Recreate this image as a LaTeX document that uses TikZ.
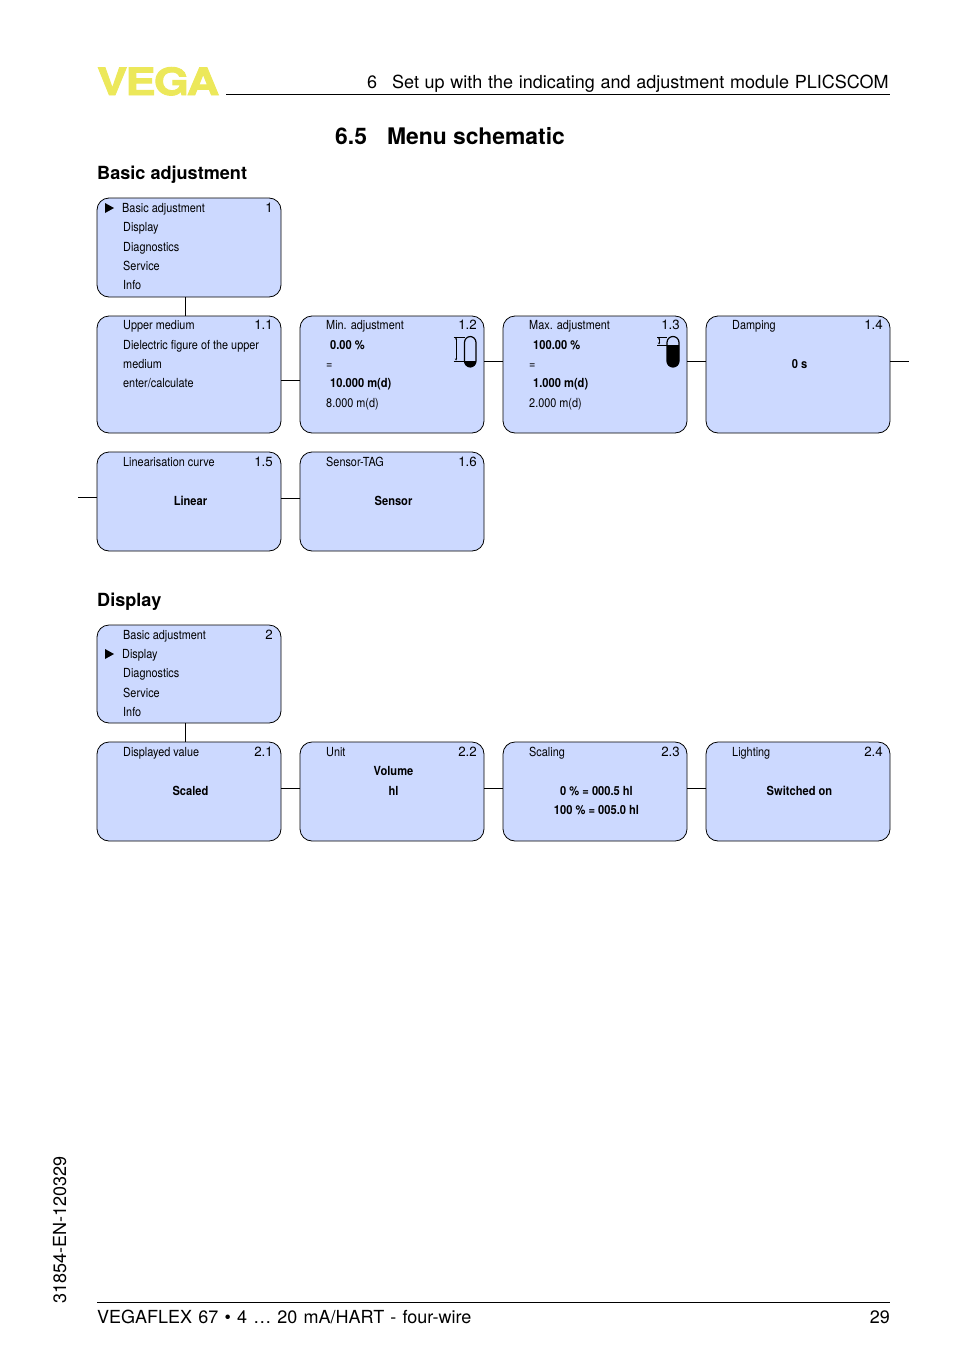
\documentclass[tikz,border=0pt]{standalone}
\usepackage{fontspec}
\usetikzlibrary{arrows.meta}
\setmainfont{TeX Gyre Heros}
\newfontfamily\narrowfont[FakeStretch=0.87]{TeX Gyre Heros}
\newfontfamily\boldfont[FakeStretch=0.89]{TeX Gyre Heros Bold}
\newfontfamily\logofont[FakeStretch=1.2, FakeBold=2.5, LetterSpace=-4.5]{TeX Gyre Heros Bold}
\newcommand\pagefont{\fontsize{18}{22}\selectfont\spaceskip 6.2pt\relax}
\newcommand\chapterfont{\fontsize{18}{22}\selectfont\spaceskip 5.75pt\relax}
\definecolor{menufill}{RGB}{204,217,255}
\definecolor{logoyellow}{RGB}{236,232,90}
\tikzset{
  menubox/.style={draw, fill=menufill, rounded corners=12, line width=0.8, minimum width=184, minimum height=#1, anchor=north west, inner sep=0, outer sep=0},
  menutext/.style={anchor=base west, inner sep=0, yshift=0.3, font=\fontsize{12.5}{15}\narrowfont},
  menubold/.style={anchor=base, inner sep=0, yshift=0.3, font=\fontsize{12.5}{15}\boldfont},
  menuleft/.style={anchor=base west, inner sep=0, yshift=0.3, font=\fontsize{12.5}{15}\boldfont},
  menunum/.style={anchor=base east, inner sep=0, yshift=0.3, font=\fontsize{13.3}{15}\selectfont},
  pagetext/.style={anchor=base west, inner sep=0, font=\pagefont},
  headtext/.style={anchor=base west, inner sep=0, font=\fontsize{18.1}{22}\selectfont\bfseries},
  link/.style={line width=0.8},
  tanktube/.style={line width=1.2, rounded corners=6},
  tankmark/.style={line width=0.6},
  tankspan/.style={line width=0.4, {Stealth[length=2,width=2]}-{Stealth[length=2,width=2]}},
}
\begin{document}
\begin{tikzpicture}[x=1pt, y=-1pt]
\useasboundingbox (0, 0) rectangle (954, 1354);
%Page
\node (logo) [anchor=base west, inner sep=0, text=logoyellow, font=\fontsize{37.5}{38}\logofont] at (97, 95) {VEGA};
\node (chapter) [pagetext, font=\chapterfont] at (367, 88.5) {6\hspace{0.83em}Set up with the indicating and adjustment module PLICSCOM};
\draw [link] (226, 94.5) -- (890, 94.5);
\node (section) [anchor=base west, inner sep=0, font=\fontsize{22.85}{26}\selectfont\bfseries] at (335, 144) {6.5\hspace{0.88em}Menu schematic};
\node (basichead) [headtext] at (97, 179) {Basic adjustment};
\node (displayhead) [headtext] at (97, 606) {Display};
\node (docnum) [anchor=base west, inner sep=0, rotate=90, font=\fontsize{18}{22}\selectfont] at (66, 1304) {31854-EN-120329};
\draw [link] (97, 1302.5) -- (890, 1302.5);
\node (footer) [pagetext] at (97, 1323) {VEGAFLEX 67 • 4 … 20 mA/HART - four-wire};
\node (pagenum) [pagetext, anchor=base east] at (890, 1323) {29};
%Boxes
\node (menuA) [menubox=99] at (97, 198) {};
\node (boxAa) [menubox=117] at (97, 316) {};
\node (boxAb) [menubox=117] at (300, 316) {};
\node (boxAc) [menubox=117] at (503, 316) {};
\node (boxAd) [menubox=117] at (706, 316) {};
\node (boxAe) [menubox=99] at (97, 452) {};
\node (boxAf) [menubox=99] at (300, 452) {};
\node (menuB) [menubox=98] at (97, 625) {};
\node (boxBa) [menubox=99] at (97, 742) {};
\node (boxBb) [menubox=99] at (300, 742) {};
\node (boxBc) [menubox=99] at (503, 742) {};
\node (boxBd) [menubox=99] at (706, 742) {};
%Links
\coordinate (contA) at (909, 361);
\coordinate (contB) at (78, 497);
\draw [link] ([xshift=-4]menuA.south) -- ([xshift=-4]boxAa.north);
\draw [link] ([yshift=-5.5]boxAa.east) -- ([yshift=-5.5]boxAb.west);
\draw [link] ([yshift=13.5]boxAb.east) -- ([yshift=13.5]boxAc.west);
\draw [link] ([yshift=13.5]boxAc.east) -- ([yshift=13.5]boxAd.west);
\draw [link] ([yshift=13.5]boxAd.east) -- (contA);
\draw [link] (contB) -- ([yshift=4.5]boxAe.west);
\draw [link] ([yshift=3.5]boxAe.east) -- ([yshift=3.5]boxAf.west);
\draw [link] ([xshift=-4]menuB.south) -- ([xshift=-4]boxBa.north);
\draw [link] ([yshift=3.5]boxBa.east) -- ([yshift=3.5]boxBb.west);
\draw [link] ([yshift=3.5]boxBb.east) -- ([yshift=3.5]boxBc.west);
\draw [link] ([yshift=3.5]boxBc.east) -- ([yshift=3.5]boxBd.west);
%Text
\fill (105, 203) -- (114, 208) -- (105, 213) -- cycle;
\node (ma1) [menutext] at (122, 213) {Basic adjustment};
\node (ma2) [menutext] at (123, 232) {Display};
\node (ma3) [menutext] at (123, 252) {Diagnostics};
\node (ma4) [menutext] at (123, 271) {Service};
\node (ma5) [menutext] at (123, 290) {Info};
\node (man) [menunum] at (273, 213) {1};
\node (aa1) [menutext] at (123, 330) {Upper medium};
\node (aa2) [menutext] at (123, 350) {Dielectric figure of the upper};
\node (aa3) [menutext] at (123, 369) {medium};
\node (aa4) [menutext] at (123, 388) {enter/calculate};
\node (aan) [menunum] at (273, 330) {1.1};
\node (ab1) [menutext] at (326, 330) {Min. adjustment};
\node (ab2) [menuleft] at (330, 350) {0.00 \%};
\node (ab3) [menutext] at (326, 369) {=};
\node (ab4) [menuleft] at (330, 388) {10.000 m(d)};
\node (ab5) [menutext] at (326, 408) {8.000 m(d)};
\node (abn) [menunum] at (477, 330) {1.2};
\node (ac1) [menutext] at (529, 330) {Max. adjustment};
\node (ac2) [menuleft] at (533, 350) {100.00 \%};
\node (ac3) [menutext] at (529, 369) {=};
\node (ac4) [menuleft] at (533, 388) {1.000 m(d)};
\node (ac5) [menutext] at (529, 408) {2.000 m(d)};
\node (acn) [menunum] at (680, 330) {1.3};
\node (ad1) [menutext] at (732, 330) {Damping};
\node (ad2) [menubold] at (799.5, 369) {0 s};
\node (adn) [menunum] at (883, 330) {1.4};
\node (ae1) [menutext] at (123, 467) {Linearisation curve};
\node (ae2) [menubold] at (190.5, 506) {Linear};
\node (aen) [menunum] at (273, 467) {1.5};
\node (af1) [menutext] at (326, 467) {Sensor-TAG};
\node (af2) [menubold] at (393.5, 506) {Sensor};
\node (afn) [menunum] at (477, 467) {1.6};
\fill (105, 649) -- (114, 654) -- (105, 659) -- cycle;
\node (mb1) [menutext] at (123, 640) {Basic adjustment};
\node (mb2) [menutext] at (122, 659) {Display};
\node (mb3) [menutext] at (123, 678) {Diagnostics};
\node (mb4) [menutext] at (123, 698) {Service};
\node (mb5) [menutext] at (123, 717) {Info};
\node (mbn) [menunum] at (273, 640) {2};
\node (ba1) [menutext] at (123, 757) {Displayed value};
\node (ba2) [menubold] at (190.5, 796) {Scaled};
\node (ban) [menunum] at (273, 757) {2.1};
\node (bb1) [menutext] at (326, 757) {Unit};
\node (bb2) [menubold] at (393.5, 776) {Volume};
\node (bb3) [menubold] at (393.5, 796) {hl};
\node (bbn) [menunum] at (477, 757) {2.2};
\node (bc1) [menutext] at (529, 757) {Scaling};
\node (bc2) [menubold] at (596.5, 796) {0 \% = 000.5 hl};
\node (bc3) [menubold] at (596.5, 815) {100 \% = 005.0 hl};
\node (bcn) [menunum] at (680, 757) {2.3};
\node (bd1) [menutext] at (732, 757) {Lighting};
\node (bd2) [menubold] at (799.5, 796) {Switched on};
\node (bdn) [menunum] at (883, 757) {2.4};
%Tanks
\begin{scope}
\clip [rounded corners=6] (464.5, 336.5) rectangle (476, 367);
\fill (464, 361) rectangle (477, 368);
\end{scope}
\draw [tanktube] (464.5, 336.5) rectangle (476, 367);
\draw [tankmark] (453.5, 337) -- (465, 337) (453.5, 361) -- (465, 361);
\draw [tankspan] (456, 337.5) -- (456, 360.5);
\begin{scope}
\clip [rounded corners=6] (667, 336.5) rectangle (679, 367);
\fill (666, 345) rectangle (680, 368);
\end{scope}
\draw [tanktube] (667, 336.5) rectangle (679, 367);
\draw [tankmark] (657, 337) -- (667, 337) (657, 345) -- (667, 345);
\draw [tankspan] (659, 337.5) -- (659, 344.5);
\end{tikzpicture}
\end{document}
